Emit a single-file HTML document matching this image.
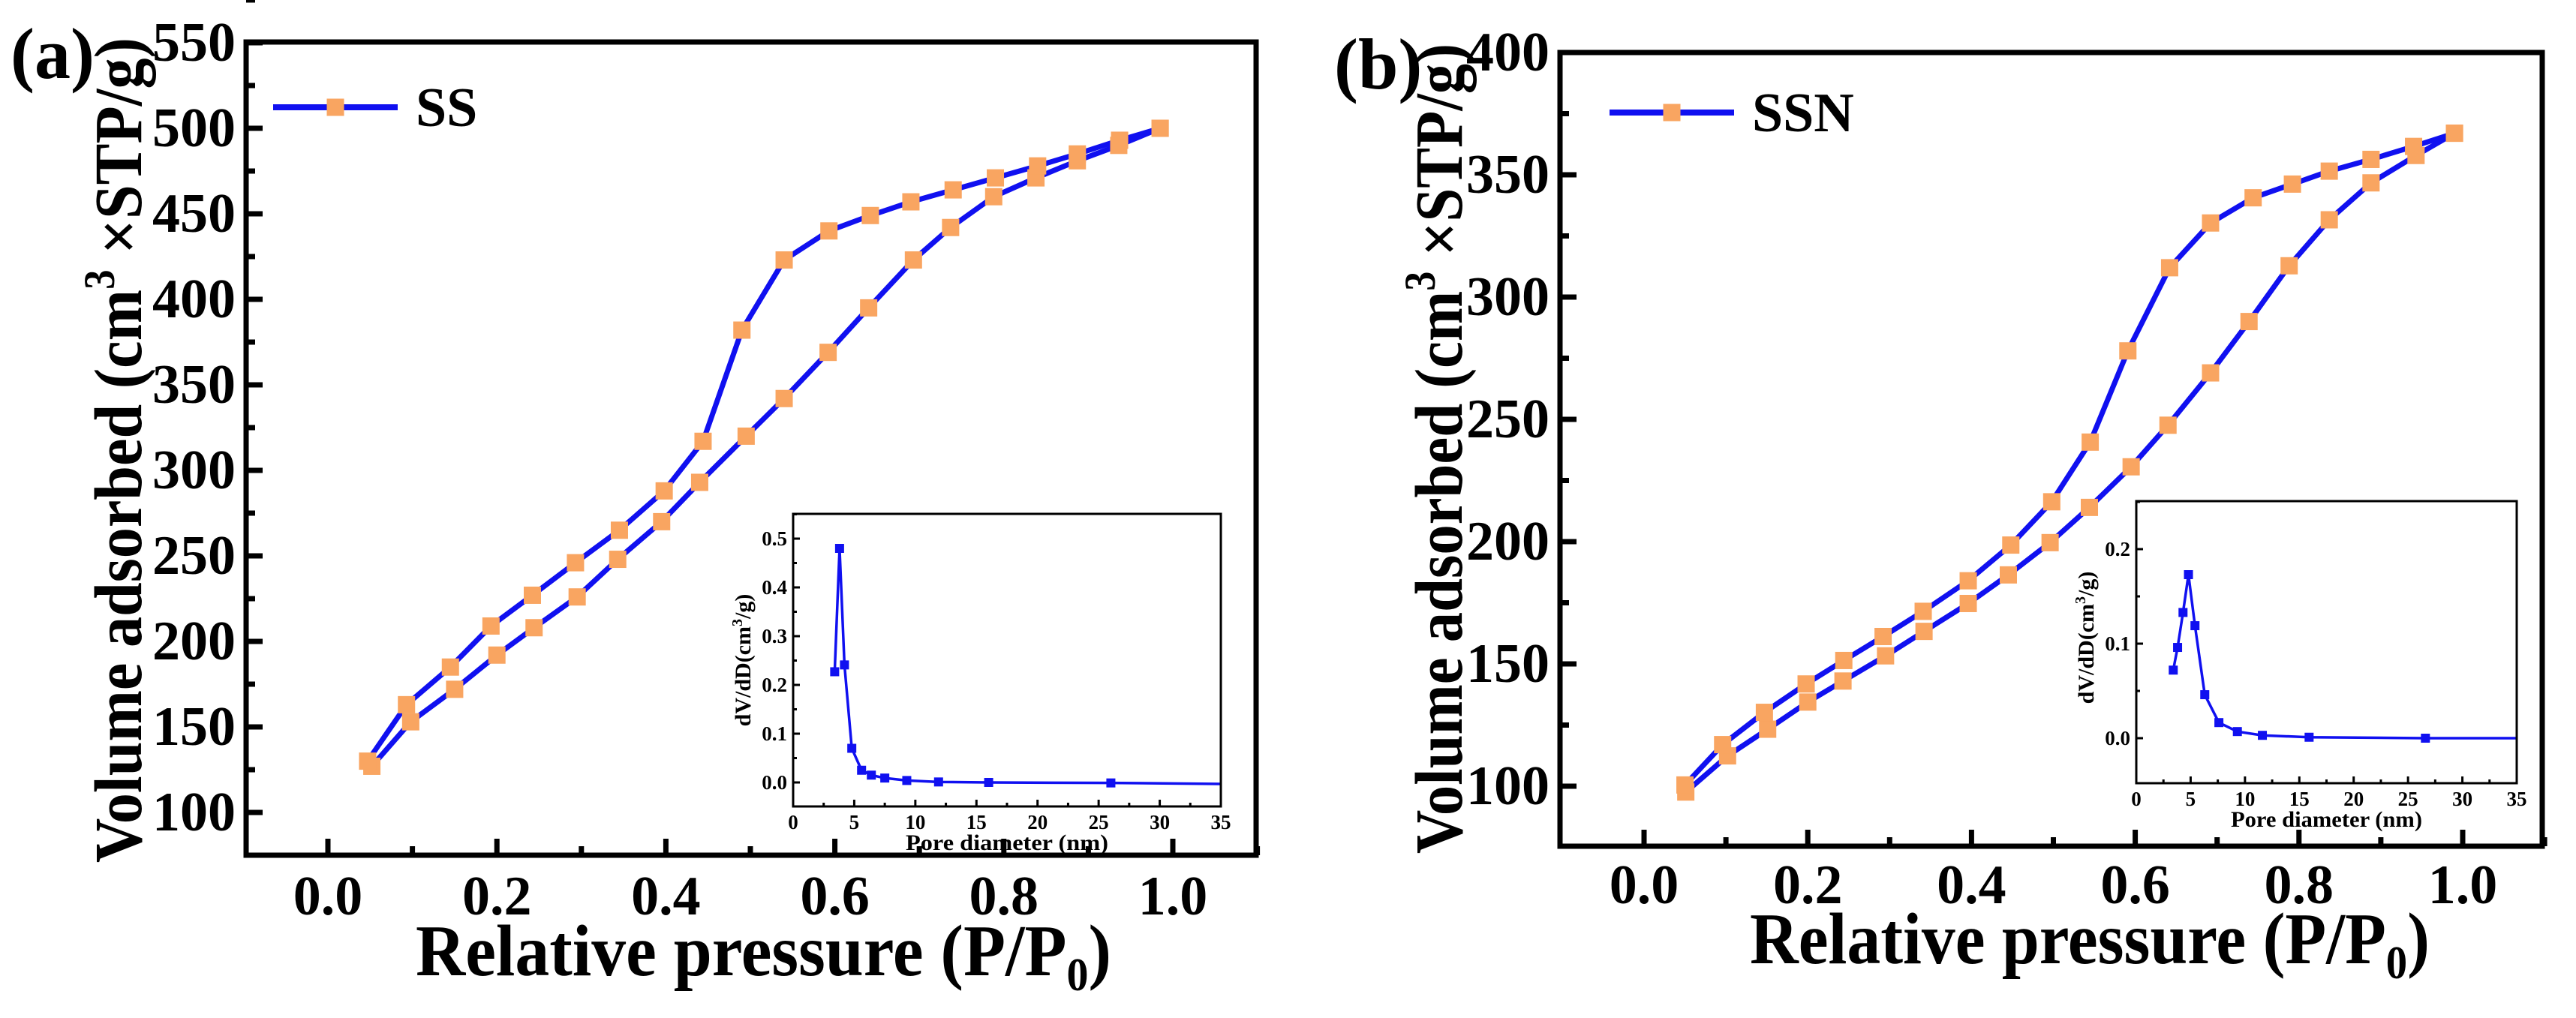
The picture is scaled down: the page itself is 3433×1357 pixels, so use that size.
<!DOCTYPE html>
<html><head><meta charset="utf-8"><style>
html,body{margin:0;padding:0;background:#fff;}
svg{display:block;}
svg text{font-family:"Liberation Serif","Times New Roman",serif;font-weight:bold;fill:#000;}
</style></head><body>
<svg id="fig" width="3433" height="1357" viewBox="0 0 3433 1357" xmlns="http://www.w3.org/2000/svg" font-family="Liberation Serif, serif" font-weight="bold"></svg>
<script>
// Panel (a) SS isotherm data
const ssAdsX = [0.052,0.098,0.15,0.2,0.244,0.295,0.343,0.395,0.44,0.495,0.54,0.592,0.64,0.693,0.737,0.788,0.838,0.887,0.936,0.985];
const ssAdsY = [127,153,172,192,208,226,248,270,293,320,342,369,395,423,442,460,471,481,490,500];
const ssDesX = [0.985,0.937,0.887,0.84,0.79,0.74,0.69,0.642,0.593,0.54,0.49,0.444,0.398,0.345,0.293,0.242,0.193,0.145,0.093,0.047];
const ssDesY = [500,493,485,478,471,464,457,449,440,423,382,317,288,265,246,227,209,185,163,130];
// Panel (a) inset PSD
const ssPoreX = [3.4,3.8,4.2,4.8,5.6,6.4,7.5,9.3,11.9,16,26,35];
const ssPoreY = [0.227,0.48,0.241,0.07,0.025,0.015,0.009,0.004,0.001,0,-0.001,-0.003];
// Panel (b) SSN isotherm data
const ssnAdsX = [0.051,0.102,0.151,0.2,0.243,0.295,0.342,0.396,0.445,0.496,0.544,0.595,0.64,0.692,0.739,0.788,0.837,0.888,0.943,0.99];
const ssnAdsY = [97.6,112.4,123.3,134.4,143,153.3,163.3,174.7,186.4,199.6,214,230.6,247.6,269,290,312.8,331.6,346.7,357.9,367];
const ssnDesX = [0.99,0.94,0.888,0.837,0.792,0.744,0.692,0.642,0.591,0.545,0.498,0.448,0.396,0.341,0.292,0.244,0.198,0.147,0.096,0.05];
const ssnDesY = [367,361.6,356.3,351.5,346.2,340.6,330.3,312,278,240.7,216.3,198.6,184,171.5,161.2,151.4,141.8,130.2,117,100.5];
const ssnPoreX = [3.4,3.8,4.3,4.8,5.4,6.3,7.6,9.3,11.6,15.9,26.6,35];
const ssnPoreY = [0.072,0.096,0.133,0.173,0.119,0.046,0.0165,0.007,0.003,0.001,0,0];
// tick labels
const ssYTicks = [100,150,200,250,300,350,400,450,500,550];
const ssnYTicks = [100,150,200,250,300,350,400];
const xTicks = [0.0,0.2,0.4,0.6,0.8,1.0];
const poreXTicks = [0,5,10,15,20,25,30,35];
const ssPoreYTicks = [0.0,0.1,0.2,0.3,0.4,0.5];
const ssnPoreYTicks = [0.0,0.1,0.2];

const NS = "http://www.w3.org/2000/svg";
const svg = document.getElementById('fig');
function mk(tag, attrs, parent){const e=document.createElementNS(NS,tag);for(const k in attrs)e.setAttribute(k,attrs[k]);if(tag==='text'){e.setAttribute('font-family','Liberation Serif, serif');e.setAttribute('font-weight','bold');}(parent||svg).appendChild(e);return e;}
function lin(d0,d1,p0,p1){return v=>p0+(v-d0)*(p1-p0)/(d1-d0);}

function panel(o){
  const g=mk('g',{});
  
  
  const sx=lin(0,1,o.x0,o.x1), sy=lin(o.ya,o.yb,o.pya,o.pyb);
  o.yTicks.forEach(v=>{
    const y=sy(v);
    const t=mk('line',{x1:o.L,x2:o.L+22,y1:y,y2:y,stroke:'#000','stroke-width':7},g);
    
    
    const m=mk('line',{x1:o.L,x2:o.L+12,y1:sy(v+25),y2:sy(v+25),stroke:'#000','stroke-width':7},g);
    
    
    const l=mk('text',{x:o.L-14,y:y+24,'text-anchor':'end','font-size':74},g);
    l.textContent=v;
    
    
  });
  xTicks.forEach(v=>{
    const x=sx(v);
    const t=mk('line',{x1:x,x2:x,y1:o.B,y2:o.B-22,stroke:'#000','stroke-width':7},g);
    
    
    const m=mk('line',{x1:sx(v+0.1),x2:sx(v+0.1),y1:o.B,y2:o.B-12,stroke:'#000','stroke-width':7},g);
    
    
    const l=mk('text',{x:x,y:o.xlY,'text-anchor':'middle','font-size':74},g);
    l.textContent=v.toFixed(1);
    
    
  });
  [[o.adsX,o.adsY,'adsorption-branch'],[o.desX,o.desY,'desorption-branch']].forEach(([xs,ys,nm])=>{
    const pts=xs.map((x,i)=>sx(x)+','+sy(ys[i])).join(' ');
    const pl=mk('polyline',{points:pts,fill:'none',stroke:'#1010f0','stroke-width':7,'stroke-linejoin':'round'},g);
    
    
  });
  [[o.adsX,o.adsY],[o.desX,o.desY]].forEach(([xs,ys])=>{
    xs.forEach((x,i)=>{
      const r=mk('rect',{x:sx(x)-11.5,y:sy(ys[i])-11.5,width:23,height:23,fill:'#f9a561'},g);
      
      
    });
  });
  const f=mk('rect',{x:o.L,y:o.T,width:o.R-o.L,height:o.B-o.T,fill:'none',stroke:'#000','stroke-width':7},g);
  
  
  const lg=mk('g',{},g);
  
  
  mk('line',{x1:o.lgx,x2:o.lgx+166,y1:o.lgy,y2:o.lgy,stroke:'#1010f0','stroke-width':8},lg);
  mk('rect',{x:o.lgx+83-11.5,y:o.lgy-11.5,width:23,height:23,fill:'#f9a561'},lg);
  const lt=mk('text',{x:o.lgx+190,y:o.lgy+25,'font-size':74},lg);
  lt.textContent=o.legend;
  const xt=mk('text',{x:o.xtX,y:o.xtY,'font-size':98,textLength:o.xtLen,lengthAdjust:'spacingAndGlyphs'},g);
  xt.innerHTML='Relative pressure (P/P<tspan font-size="62" dy="20">0</tspan><tspan dy="-20">)</tspan>';
  
  
  const yt=mk('text',{x:0,y:0,'text-anchor':'middle','font-size':90,textLength:o.ytLen,lengthAdjust:'spacingAndGlyphs',transform:`translate(${o.ytX},${o.ytY}) rotate(-90)`},g);
  yt.innerHTML='Volume adsorbed (cm<tspan font-size="58" dy="-36">3</tspan><tspan dy="36"> ×STP/g)</tspan>';
  
  
  const pl=mk('text',{x:o.plX,y:o.plY,'font-size':96},g);
  pl.textContent=o.label;
  
  
  const ig=mk('g',{},g);
  
  
  const i=o.inset;
  const ix=lin(0,35,i.L,i.R), iy=lin(0,i.ymax,i.y0,i.yTop);
  poreXTicks.forEach(v=>{
    const x=ix(v);
    mk('line',{x1:x,x2:x,y1:i.B,y2:i.B-9,stroke:'#000','stroke-width':3},ig);
    if(v<35) mk('line',{x1:ix(v+2.5),x2:ix(v+2.5),y1:i.B,y2:i.B-5,stroke:'#000','stroke-width':3},ig);
    const l=mk('text',{x:x,y:i.B+30,'text-anchor':'middle','font-size':27},ig);
    l.textContent=v;
    
    
  });
  i.ticks.forEach(v=>{
    const y=iy(v);
    mk('line',{x1:i.L,x2:i.L+9,y1:y,y2:y,stroke:'#000','stroke-width':3},ig);
    const m=iy(v+i.step/2); if(m>i.T) mk('line',{x1:i.L,x2:i.L+5,y1:m,y2:m,stroke:'#000','stroke-width':3},ig);
    const l=mk('text',{x:i.L-8,y:y+9,'text-anchor':'end','font-size':27},ig);
    l.textContent=v.toFixed(1);
    
    
  });
  const ip=mk('polyline',{points:i.xs.map((x,k)=>ix(x)+','+iy(i.ys[k])).join(' '),fill:'none',stroke:'#1010f0','stroke-width':3.5,'stroke-linejoin':'round'},ig);
  
  
  i.xs.forEach((x,k)=>{ if(x>=35) return;
    const r=mk('rect',{x:ix(x)-6,y:iy(i.ys[k])-6,width:12,height:12,fill:'#1010f0'},ig);
    
    
  });
  mk('rect',{x:i.L,y:i.T,width:i.R-i.L,height:i.B-i.T,fill:'none',stroke:'#000','stroke-width':3},ig);
  const ixt=mk('text',{x:(i.L+i.R)/2,y:i.B+58,'text-anchor':'middle','font-size':30,textLength:i.xtLen,lengthAdjust:'spacingAndGlyphs'},ig);
  ixt.textContent='Pore diameter (nm)';
  
  
  const iyt=mk('text',{x:0,y:0,'text-anchor':'middle','font-size':30,transform:`translate(${i.ytX},${i.ytY}) rotate(-90)`},ig);
  iyt.innerHTML='dV/dD(cm<tspan font-size="20" dy="-11">3</tspan><tspan dy="11">/g)</tspan>';
  
  
}

panel({name:'panel-a-ss',L:328,R:1674,T:56,B:1140,x0:437,x1:1563,ya:100,yb:500,pya:1083,pyb:171,
  yTicks:ssYTicks,adsX:ssAdsX,adsY:ssAdsY,desX:ssDesX,desY:ssDesY,xlY:1219,
  lgx:364,lgy:143,legend:'SS',xtX:554,xtY:1300,xtLen:927,ytX:188,ytY:600,ytLen:1100,plX:14,plY:104,label:'(a)',
  inset:{L:1057,R:1627,T:685,B:1075,y0:1043,yTop:718,ymax:0.5,ticks:ssPoreYTicks,step:0.1,xs:ssPoreX,ys:ssPoreY,xtLen:270,ytX:1000,ytY:880}});
panel({name:'panel-b-ssn',L:2079,R:3388,T:70,B:1128,x0:2191,x1:3282,ya:100,yb:400,pya:1048,pyb:70,
  yTicks:ssnYTicks,adsX:ssnAdsX,adsY:ssnAdsY,desX:ssnDesX,desY:ssnDesY,xlY:1204,
  lgx:2145,lgy:150,legend:'SSN',xtX:2332,xtY:1284,xtLen:906,ytX:1948,ytY:598,ytLen:1080,plX:1778,plY:118,label:'(b)',
  inset:{L:2847,R:3354,T:668,B:1044,y0:984,yTop:732,ymax:0.2,ticks:ssnPoreYTicks,step:0.1,xs:ssnPoreX,ys:ssnPoreY,xtLen:255,ytX:2790,ytY:850}});
</script>
</body></html>
